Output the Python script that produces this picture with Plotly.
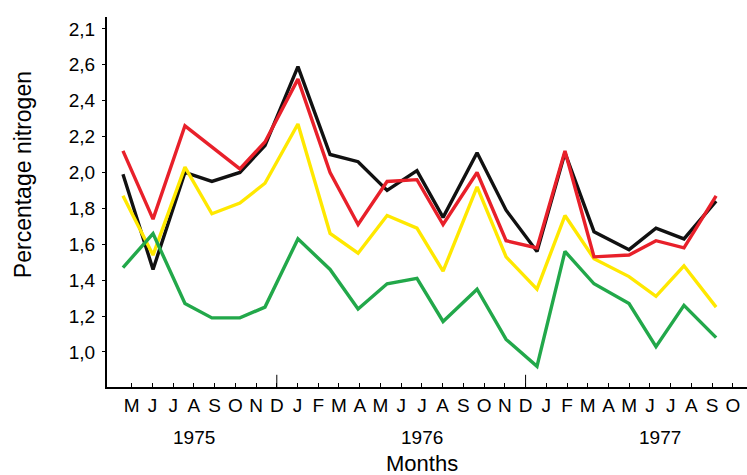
import plotly.graph_objects as go

# Month tick labels (May 1975 .. Oct 1977)
month_labels = (["M", "J", "J", "A", "S", "O", "N", "D"]
                + ["J", "F", "M", "A", "M", "J", "J", "A", "S", "O", "N", "D"]
                + ["J", "F", "M", "A", "M", "J", "J", "A", "S", "O"])
month_idx = list(range(len(month_labels)))

# Sampling dates as month position (0 = May 1975)
sample_pos = [-0.42, 1.03, 2.57, 3.87, 5.22, 6.43, 8.02, 9.57, 10.92, 12.32, 13.76,
              15.02, 16.66, 18.06, 19.55, 20.90, 22.30, 23.99, 25.29, 26.64, 28.19]

black_vals = [1.99, 1.46, 2.00, 1.95, 2.00, 2.15, 2.59, 2.10, 2.06, 1.90, 2.01,
              1.75, 2.11, 1.79, 1.56, 2.11, 1.67, 1.57, 1.69, 1.63, 1.84]
red_vals = [2.12, 1.74, 2.26, None, 2.02, 2.17, 2.52, 2.00, 1.71, 1.95, 1.96,
            1.71, 2.00, 1.62, 1.58, 2.12, 1.53, 1.54, 1.62, 1.58, 1.87]
yellow_vals = [1.87, 1.54, 2.03, 1.77, 1.83, 1.94, 2.27, 1.66, 1.55, 1.76, 1.69,
               1.45, 1.92, 1.53, 1.35, 1.76, 1.52, 1.42, 1.31, 1.48, 1.25]
green_vals = [1.47, 1.66, 1.27, 1.19, 1.19, 1.25, 1.63, 1.46, 1.24, 1.38, 1.41,
              1.17, 1.35, 1.07, 0.92, 1.56, 1.38, 1.27, 1.03, 1.26, 1.08]

y_tickvals = [1.0, 1.2, 1.4, 1.6, 1.8, 2.0, 2.2, 2.4, 2.6, 2.8]
y_ticktext = ["1,0", "1,2", "1,4", "1,6", "1,8", "2,0", "2,2", "2,4", "2,6", "2,1"]

years = ["1975", "1976", "1977"]
year_pos = [3, 14, 25.5]

FONT = "Liberation Sans, Arial, sans-serif"

fig = go.Figure()
series = [
    (black_vals, "#111111"),
    (yellow_vals, "#ffe800"),
    (red_vals, "#e8202a"),
    (green_vals, "#22a84a"),
]
for vals, col in series:
    fig.add_trace(go.Scatter(x=sample_pos, y=vals, mode="lines", connectgaps=True,
                             line=dict(color=col, width=3.4), showlegend=False,
                             hoverinfo="skip"))

# taller tick marks at each December
shapes = []
for i, lab in enumerate(month_labels):
    if lab == "D":
        shapes.append(dict(type="line", xref="x", yref="y domain", x0=i, x1=i,
                           y0=0, y1=0.033, line=dict(color="black", width=1)))

annotations = []
for yr, pos in zip(years, year_pos):
    annotations.append(dict(text=yr, x=pos, xref="x", y=-0.137, yref="paper",
                            showarrow=False, xanchor="center", yanchor="middle",
                            font=dict(family=FONT, size=19, color="black")))
annotations.append(dict(text="Months", x=14, xref="x", y=-0.207, yref="paper",
                        showarrow=False, xanchor="center", yanchor="middle",
                        font=dict(family=FONT, size=22, color="black")))
annotations.append(dict(text="Percentage nitrogen", x=-0.131, xref="paper",
                        y=0.573, yref="paper", textangle=-90, showarrow=False,
                        xanchor="center", yanchor="middle",
                        font=dict(family=FONT, size=23, color="black")))

fig.update_layout(
    width=747, height=475,
    margin=dict(l=107, r=0, t=17, b=88),
    paper_bgcolor="white", plot_bgcolor="white",
    font=dict(family=FONT, color="black"),
    shapes=shapes, annotations=annotations,
    xaxis=dict(range=[-1.19, 29.68], tickmode="array", tickvals=month_idx,
               ticktext=month_labels, ticks="inside", ticklen=4, tickwidth=1,
               tickcolor="black", showline=True, linecolor="black", linewidth=2,
               showgrid=False, zeroline=False, tickfont=dict(size=19, family=FONT),
               ticklabelstandoff=0),
    yaxis=dict(range=[0.805, 2.866], tickmode="array", tickvals=y_tickvals,
               ticktext=y_ticktext, ticks="outside", ticklen=3, tickwidth=1,
               tickcolor="black", showline=True, linecolor="black", linewidth=2,
               showgrid=False, zeroline=False, tickfont=dict(size=19, family=FONT),
               ticklabelstandoff=3),
)

fig.write_html("out.html")
